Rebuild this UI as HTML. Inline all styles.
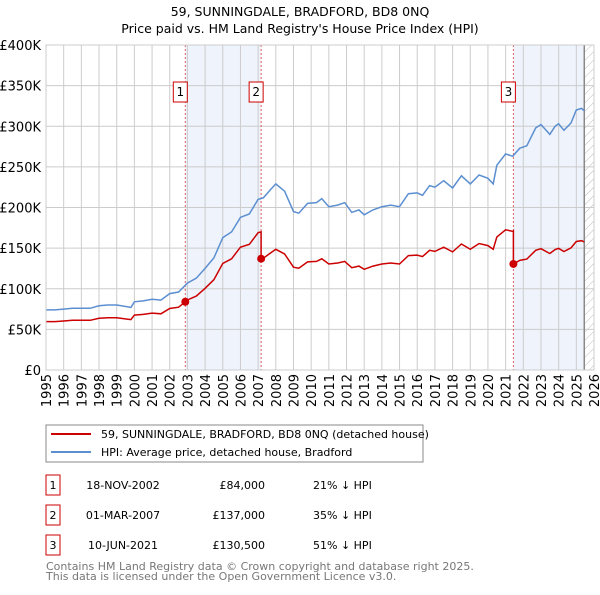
<!DOCTYPE html>
<html><head><meta charset="utf-8"><style>
body{margin:0;background:#fff;font-family:"Liberation Sans","DejaVu Sans",sans-serif;}
svg text{font-family:"DejaVu Sans","Liberation Sans",sans-serif;}
</style></head><body>
<svg id="c" width="600" height="590" xmlns="http://www.w3.org/2000/svg">
<defs><pattern id="h" width="6" height="6" patternUnits="userSpaceOnUse" patternTransform="rotate(45)"><line x1="0" y1="0" x2="0" y2="6" stroke="#bbb" stroke-width="1"/></pattern></defs>
<text x="300" y="16" text-anchor="middle" font-size="12.5">59, SUNNINGDALE, BRADFORD, BD8 0NQ</text>
<text x="300" y="33" text-anchor="middle" font-size="12.5">Price paid vs. HM Land Registry's House Price Index (HPI)</text>
<g id="plot"></g>
<g>
<rect x="46" y="425" width="377" height="37" fill="#fff" stroke="#888"/>
<line x1="51" y1="434" x2="91" y2="434" stroke="#cc0000" stroke-width="2"/>
<text x="101" y="438" font-size="11">59, SUNNINGDALE, BRADFORD, BD8 0NQ (detached house)</text>
<line x1="51" y1="452" x2="91" y2="452" stroke="#5b8fd0" stroke-width="2"/>
<text x="101" y="456" font-size="11">HPI: Average price, detached house, Bradford</text>
</g>
<g id="tbl" font-size="11"></g>
<text x="46" y="570" font-size="11" fill="#777">Contains HM Land Registry data © Crown copyright and database right 2025.</text>
<text x="46" y="580" font-size="11" fill="#777">This data is licensed under the Open Government Licence v3.0.</text>
</svg>
<script>
const hpiDates=[1995,1995.5,1996,1996.5,1997,1997.5,1998,1998.5,1999,1999.8,2000,2000.5,2001,2001.5,2002,2002.5,2003,2003.5,2004,2004.5,2005,2005.5,2006,2006.5,2007,2007.3,2007.7,2008,2008.5,2009,2009.3,2009.8,2010.3,2010.6,2011,2011.5,2011.9,2012.3,2012.7,2013,2013.5,2014,2014.5,2015,2015.5,2016,2016.3,2016.7,2017,2017.5,2018,2018.5,2019,2019.5,2020,2020.3,2020.5,2021,2021.4,2021.8,2022.2,2022.7,2023,2023.5,2023.8,2024,2024.3,2024.7,2025,2025.3,2025.45];
const hpiValues=[74,74,75,76,76,76,79,80,80,77,84,85,87,86,94,96,107,113,125,138,163,170,188,192,210,212,222,229,220,195,193,205,206,211,201,203,206,194,197,191,197,201,203,201,217,218,215,227,225,233,224,239,229,240,236,229,252,266,263,273,276,298,302,290,300,303,295,304,320,322,319];
const saleDates=[2002.88,2007.17,2021.44];
const salePrices=[84,137,130.5];
const saleLabels=["1","2","3"];
const saleDateText=["18-NOV-2002","01-MAR-2007","10-JUN-2021"];
const salePriceText=["£84,000","£137,000","£130,500"];
const saleHpiText=["21% ↓ HPI","35% ↓ HPI","51% ↓ HPI"];
const yTicks=[0,50,100,150,200,250,300,350,400];
const yTickLabels=["£0","£50K","£100K","£150K","£200K","£250K","£300K","£350K","£400K"];
const xYears=[1995,1996,1997,1998,1999,2000,2001,2002,2003,2004,2005,2006,2007,2008,2009,2010,2011,2012,2013,2014,2015,2016,2017,2018,2019,2020,2021,2022,2023,2024,2025,2026];
const X0=46,X1=594,Y0=370,Y1=45;
const x=d=>X0+(d-1995)/31*(X1-X0);
const y=v=>Y0-v/400*(Y0-Y1);
const NS="http://www.w3.org/2000/svg";
const plot=document.getElementById('plot');
function mk(tag,attrs,parent){const e=document.createElementNS(NS,tag);for(const k in attrs)e.setAttribute(k,attrs[k]);(parent||plot).appendChild(e);return e;}
function hpiAt(d){for(let i=0;i<hpiDates.length-1;i++){if(d<=hpiDates[i+1]){const t=(d-hpiDates[i])/(hpiDates[i+1]-hpiDates[i]);return hpiValues[i]+t*(hpiValues[i+1]-hpiValues[i]);}}return hpiValues[hpiValues.length-1];}
let r=mk('rect',{x:x(saleDates[0]),y:Y1,width:x(saleDates[1])-x(saleDates[0]),height:Y0-Y1,fill:'#eef3fc'});


r=mk('rect',{x:x(saleDates[2]),y:Y1,width:x(2025.45)-x(saleDates[2]),height:Y0-Y1,fill:'#eef3fc'});


r=mk('rect',{x:x(2025.45),y:Y1,width:X1-x(2025.45),height:Y0-Y1,fill:'url(#h)'});


yTicks.forEach((v,i)=>{const l=mk('line',{x1:X0,x2:X1,y1:y(v),y2:y(v),stroke:'#ccc'});


const t=mk('text',{x:X0-5,y:y(v)+5,'text-anchor':'end','font-size':'13'});t.textContent=yTickLabels[i];

});
xYears.forEach(yr=>{const l=mk('line',{x1:x(yr),x2:x(yr),y1:Y1,y2:Y0,stroke:'#ccc'});


const t=mk('text',{x:0,y:0,'text-anchor':'end','font-size':'13',transform:`translate(${x(yr)+5},${Y0+4}) rotate(-90)`});t.textContent=yr;

});
r=mk('line',{x1:x(2025.45),x2:x(2025.45),y1:Y1,y2:Y0,stroke:'#888','stroke-width':1.5});


saleDates.forEach((d,i)=>{const l=mk('line',{x1:x(d),x2:x(d),y1:Y1,y2:Y0,stroke:'#e06060','stroke-dasharray':'2,2'});


const g=mk('g',{});


mk('rect',{x:x(d)-12,y:82,width:14,height:20,fill:'#fff',stroke:'#cc0000'},g);
const t=mk('text',{x:x(d)-5,y:96,'text-anchor':'middle','font-size':'12'},g);t.textContent=saleLabels[i];});
let p='';hpiDates.forEach((d,i)=>{p+=(i?'L':'M')+x(d).toFixed(1)+','+y(hpiValues[i]).toFixed(1);});
r=mk('path',{d:p,fill:'none',stroke:'#5b8fd0','stroke-width':1.5});


function ratioAt(d){let k=-1;saleDates.forEach((s,i)=>{if(d>=s)k=i;});if(k<0)k=0;return salePrices[k]/hpiAt(saleDates[k]);}
const pts=[];hpiDates.forEach((d,i)=>{saleDates.forEach((s,k)=>{if(i>0&&hpiDates[i-1]<s&&d>=s){const rp=k>0?salePrices[k-1]/hpiAt(saleDates[k-1]):salePrices[0]/hpiAt(saleDates[0]);pts.push([s,hpiAt(s)*rp]);pts.push([s,salePrices[k]]);}});pts.push([d,hpiValues[i]*ratioAt(d)]);});
p='';pts.forEach((q,i)=>{p+=(i?'L':'M')+x(q[0]).toFixed(1)+','+y(q[1]).toFixed(1);});
r=mk('path',{d:p,fill:'none',stroke:'#cc0000','stroke-width':1.5});


saleDates.forEach((d,i)=>{const c=mk('circle',{cx:x(d),cy:y(salePrices[i]),r:4,fill:'#cc0000'});

});
mk('rect',{x:X0,y:Y1,width:X1-X0,height:Y0-Y1,fill:'none',stroke:'#ccc'});
const tbl=document.getElementById('tbl');
saleLabels.forEach((s,i)=>{const yy=485+i*30;const g=mk('g',{},tbl);


mk('rect',{x:46,y:yy-10,width:14,height:20,fill:'#fff',stroke:'#cc0000'},g);
let t=mk('text',{x:53,y:yy+4,'text-anchor':'middle'},g);t.textContent=s;
t=mk('text',{x:123,y:yy+4,'text-anchor':'middle'},g);t.textContent=saleDateText[i];
t=mk('text',{x:265,y:yy+4,'text-anchor':'end'},g);t.textContent=salePriceText[i];
t=mk('text',{x:313,y:yy+4},g);t.textContent=saleHpiText[i];});
</script>
</body></html>
